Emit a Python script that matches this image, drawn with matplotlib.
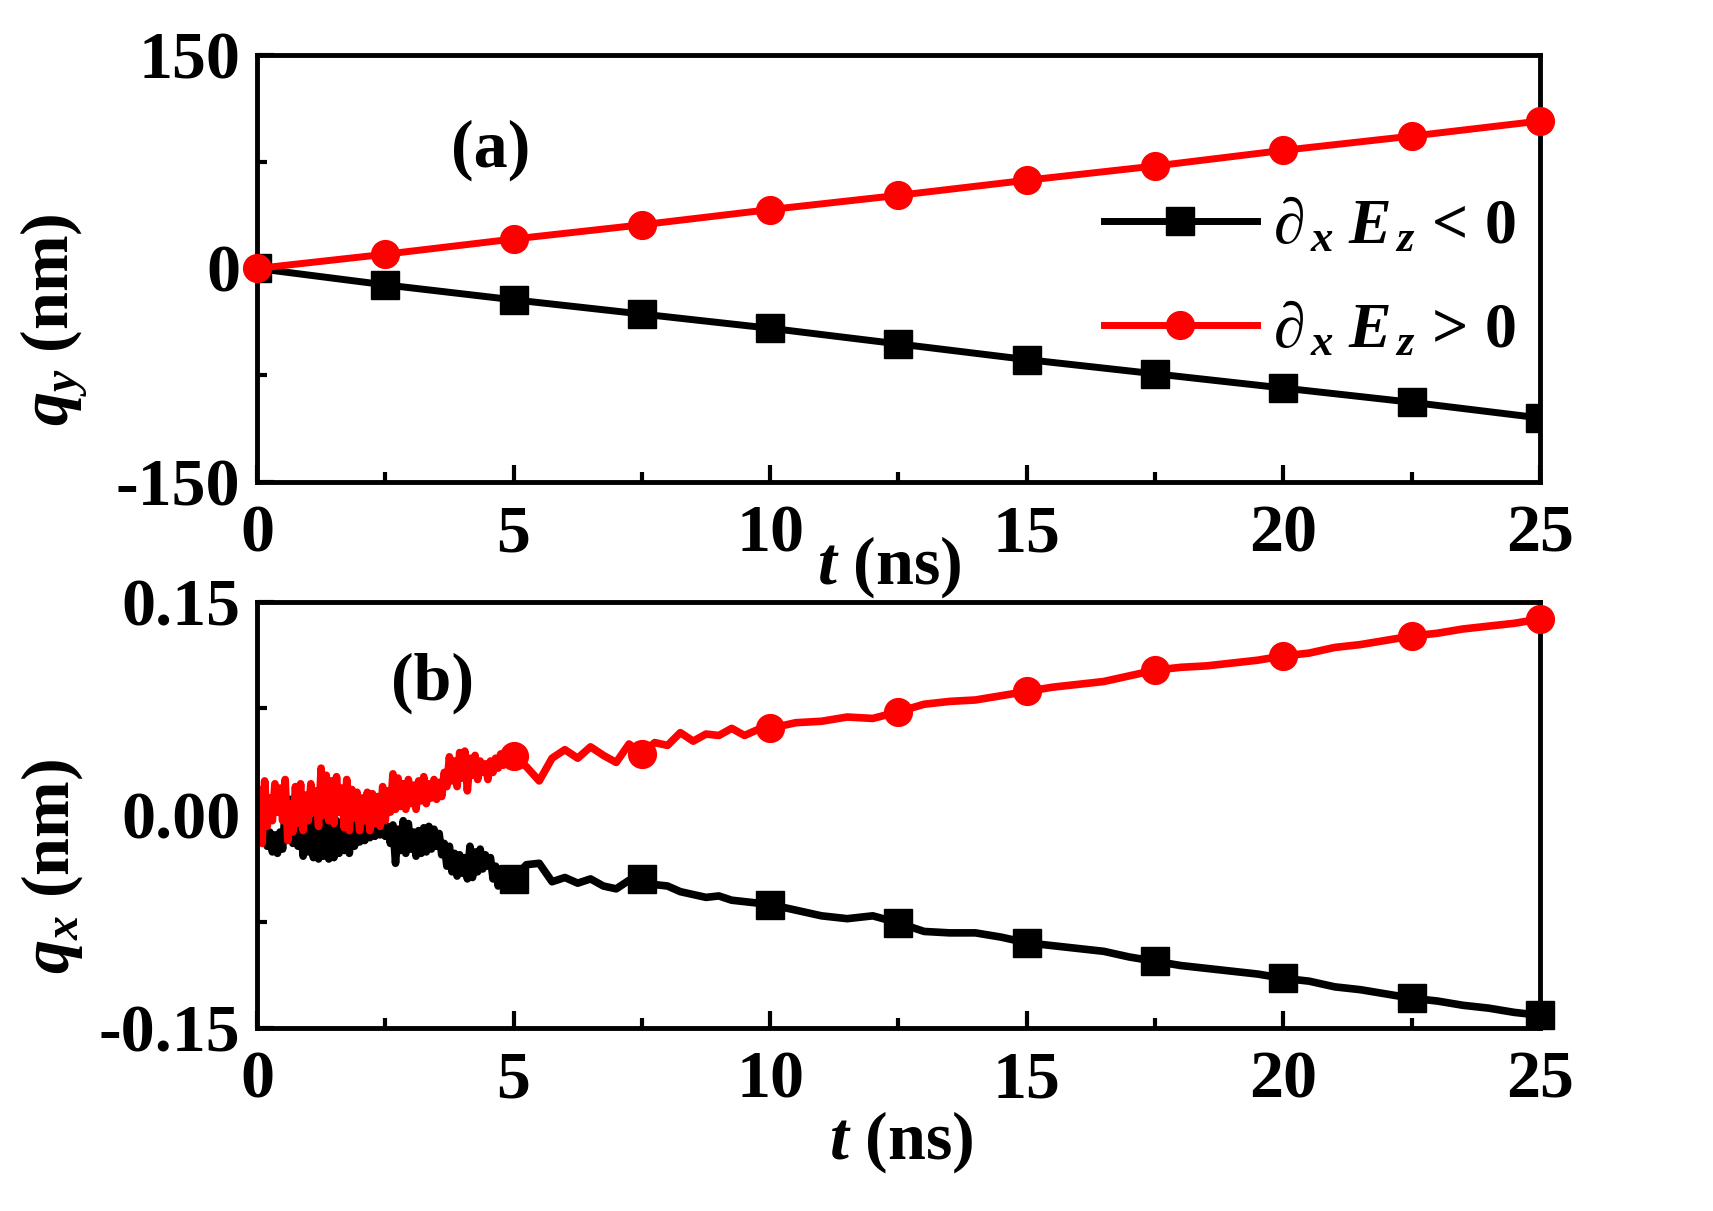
import numpy as np
import matplotlib
matplotlib.use("Agg")
import matplotlib.pyplot as plt
from matplotlib.lines import Line2D
from matplotlib.ticker import FixedLocator, MultipleLocator

# ---------------------------------------------------------------------------
# datos
# ---------------------------------------------------------------------------
t_marcas = [0, 2.5, 5, 7.5, 10, 12.5, 15, 17.5, 20, 22.5, 25]

# (a) q_y (nm)
qy_neg = [0, -11.5, -22, -32, -42, -53, -64, -74, -84, -94, -105]
qy_pos = [0, 10, 20.7, 30.7, 41.4, 51.4, 62, 72, 83, 93, 103.6]

# (b) q_x (nm), curvas con ruido
t_ruido = [0.00, 0.05, 0.10, 0.15, 0.20, 0.25, 0.30, 0.35, 0.40, 0.45,
           0.50, 0.55, 0.60, 0.65, 0.70, 0.75, 0.80, 0.85, 0.90, 0.95,
           1.00, 1.05, 1.10, 1.15, 1.20, 1.25, 1.30, 1.35, 1.40, 1.45,
           1.50, 1.55, 1.60, 1.65, 1.70, 1.75, 1.80, 1.85, 1.90, 1.95,
           2.00, 2.05, 2.10, 2.15, 2.20, 2.25, 2.30, 2.35, 2.40, 2.45,
           2.50, 2.55, 2.60, 2.65, 2.70, 2.75, 2.80, 2.85, 2.90, 2.95,
           3.00, 3.05, 3.10, 3.15, 3.20, 3.25, 3.30, 3.35, 3.40, 3.45,
           3.50, 3.55, 3.60, 3.65, 3.70, 3.75, 3.80, 3.85, 3.90, 3.95,
           4.00, 4.05, 4.10, 4.15, 4.20, 4.25, 4.30, 4.35, 4.40, 4.45,
           4.50, 4.55, 4.60, 4.65, 4.70, 4.75, 4.80, 4.85, 4.90, 4.95,
           5.0, 5.25, 5.5, 5.75, 6.0, 6.25, 6.5, 6.75, 7.0, 7.25,
           7.5, 7.75, 8.0, 8.25, 8.5, 8.75, 9.0, 9.25, 9.5, 9.75,
           10.0, 10.5, 11.0, 11.5, 12.0, 12.5, 13.0, 13.5, 14.0, 14.5,
           15.0, 15.5, 16.0, 16.5, 17.0, 17.5, 18.0, 18.5, 19.0, 19.5,
           20.0, 20.5, 21.0, 21.5, 22.0, 22.5, 23.0, 23.5, 24.0, 24.5,
           25.0]

qx_pos = [0.000, 0.018, -0.020, 0.024, -0.008, 0.012, -0.004, 0.022, 0.002, 0.019,
          -0.004, 0.025, -0.018, 0.008, -0.012, 0.020, -0.006, 0.022, -0.011, 0.014,
          -0.004, 0.022, 0.002, 0.017, -0.008, 0.033, 0.000, 0.028, -0.004, 0.024,
          -0.006, 0.027, 0.002, 0.019, -0.009, 0.025, -0.011, 0.018, -0.002, 0.016,
          -0.011, 0.012, -0.004, 0.016, -0.011, 0.015, -0.006, 0.013, -0.008, 0.020,
          -0.004, 0.017, 0.002, 0.029, 0.004, 0.026, 0.006, 0.022, 0.004, 0.025,
          0.008, 0.021, 0.004, 0.024, 0.010, 0.027, 0.008, 0.022, 0.012, 0.025,
          0.011, 0.023, 0.013, 0.030, 0.020, 0.041, 0.024, 0.038, 0.020, 0.044,
          0.026, 0.045, 0.017, 0.040, 0.028, 0.042, 0.025, 0.038, 0.030, 0.036,
          0.025, 0.038, 0.030, 0.040, 0.033, 0.043, 0.035, 0.044, 0.038, 0.042,
          0.041, 0.034, 0.024, 0.040, 0.046, 0.040, 0.048, 0.042, 0.037, 0.050,
          0.043, 0.051, 0.049, 0.058, 0.052, 0.057, 0.056, 0.061, 0.056, 0.060,
          0.061, 0.065, 0.066, 0.069, 0.068, 0.0727, 0.078, 0.080, 0.081, 0.084,
          0.087, 0.090, 0.092, 0.094, 0.098, 0.102, 0.104, 0.105, 0.107, 0.109,
          0.112, 0.114, 0.118, 0.120, 0.123, 0.126, 0.128, 0.131, 0.133, 0.135,
          0.138]

qx_neg = [0.000, 0.012, -0.018, 0.008, -0.022, -0.012, -0.026, -0.014, -0.027, -0.012,
          -0.024, 0.004, -0.015, 0.011, -0.020, -0.004, -0.022, -0.006, -0.029, -0.008,
          -0.026, -0.004, -0.030, -0.002, -0.031, -0.006, -0.029, -0.003, -0.031, -0.008,
          -0.030, -0.004, -0.027, -0.006, -0.025, -0.002, -0.027, -0.006, -0.022, -0.004,
          -0.019, -0.005, -0.018, -0.006, -0.016, -0.007, -0.015, -0.008, -0.014, -0.007,
          -0.015, -0.008, -0.020, -0.007, -0.034, -0.010, -0.025, -0.004, -0.027, -0.006,
          -0.024, -0.012, -0.029, -0.011, -0.027, -0.009, -0.026, -0.008, -0.024, -0.010,
          -0.022, -0.013, -0.028, -0.020, -0.036, -0.022, -0.040, -0.027, -0.043, -0.028,
          -0.041, -0.030, -0.045, -0.022, -0.044, -0.026, -0.040, -0.024, -0.038, -0.028,
          -0.036, -0.030, -0.045, -0.036, -0.050, -0.038, -0.048, -0.040, -0.047, -0.044,
          -0.045, -0.035, -0.034, -0.047, -0.044, -0.048, -0.045, -0.050, -0.052, -0.046,
          -0.045, -0.049, -0.050, -0.054, -0.056, -0.058, -0.057, -0.060, -0.061, -0.062,
          -0.063, -0.067, -0.071, -0.073, -0.071, -0.076, -0.082, -0.083, -0.083, -0.086,
          -0.090, -0.092, -0.094, -0.096, -0.100, -0.103, -0.106, -0.108, -0.110, -0.112,
          -0.115, -0.117, -0.121, -0.123, -0.126, -0.129, -0.131, -0.134, -0.136, -0.139,
          -0.141]

# marcadores visibles en (b): desde 5 ns
t_marcas_b = [5, 7.5, 10, 12.5, 15, 17.5, 20, 22.5, 25]
qx_pos_marcas = [0.0415, 0.043, 0.0615, 0.0727, 0.087, 0.102, 0.112, 0.126, 0.138]
qx_neg_marcas = [-0.045, -0.045, -0.0634, -0.0763, -0.0904, -0.103, -0.115, -0.129, -0.141]

etiq_neg = r"$\partial_{\,x}\;E_{\,z}$ < 0"
etiq_pos = r"$\partial_{\,x}\;E_{\,z}$ > 0"

# ---------------------------------------------------------------------------
# estilo
# ---------------------------------------------------------------------------
plt.rcParams["font.family"] = ["Liberation Serif", "DejaVu Serif"]
plt.rcParams["font.weight"] = "bold"
plt.rcParams["mathtext.fontset"] = "custom"
plt.rcParams["mathtext.rm"] = "Liberation Serif:bold"
plt.rcParams["mathtext.it"] = "Liberation Serif:italic:bold"
plt.rcParams["mathtext.bf"] = "Liberation Serif:bold"
plt.rcParams["axes.unicode_minus"] = False

FS = 49
LW = 5
MS = 20

fig = plt.figure(figsize=(17.13, 12.11), dpi=100)
ax_a = fig.add_axes([0.150, 0.602, 0.749, 0.3526])
ax_b = fig.add_axes([0.150, 0.1511, 0.749, 0.3518])


def estilo(ax):
    for s in ax.spines.values():
        s.set_linewidth(3.5)
    ax.set_xlim(0, 25)
    ax.xaxis.set_major_locator(MultipleLocator(5))
    ax.xaxis.set_minor_locator(MultipleLocator(2.5))
    ax.tick_params(which="both", direction="in", width=3, labelsize=FS)
    ax.tick_params(which="major", length=12)
    ax.tick_params(which="minor", length=7)
    ax.tick_params(axis="x", pad=16)
    ax.tick_params(axis="y", pad=12)
    for lab in ax.get_xticklabels() + ax.get_yticklabels():
        lab.set_fontweight("bold")


# (a)
ax_a.plot(t_marcas, qy_neg, color="black", lw=LW, marker="s", ms=MS, zorder=3)
ax_a.plot(t_marcas, qy_pos, color="red", lw=LW, marker="o", ms=MS, zorder=3,
          clip_on=False)
ax_a.set_ylim(-150, 150)
ax_a.yaxis.set_major_locator(FixedLocator([-150, 0, 150]))
ax_a.yaxis.set_minor_locator(FixedLocator([-75, 75]))
estilo(ax_a)
ax_a.text(0.182, 0.778, "(a)", transform=ax_a.transAxes, fontsize=FS,
          fontweight="bold", ha="center", va="center")
ax_a.text(0.493, -0.20, r"$t$ (ns)", transform=ax_a.transAxes, fontsize=FS,
          fontweight="bold", ha="center", va="center")
ax_a.text(-0.158, 0.379, r"$q_y$ (nm)", transform=ax_a.transAxes, fontsize=FS,
          fontweight="bold", ha="center", va="center", rotation=90)

manijas = [Line2D([], [], color="black", lw=LW, marker="s", ms=MS),
           Line2D([], [], color="red", lw=LW, marker="o", ms=MS)]
ax_a.legend(manijas, [etiq_neg, etiq_pos], loc="upper left",
            bbox_to_anchor=(0.66, 0.665), frameon=False, fontsize=46,
            handlelength=2.4, handletextpad=0.25, labelspacing=0.68,
            borderpad=0, borderaxespad=0)

# (b)
ax_b.plot(t_ruido, qx_neg, color="black", lw=5.5, solid_joinstyle="round", zorder=2)
ax_b.plot(t_ruido, qx_pos, color="red", lw=5.5, solid_joinstyle="round", zorder=2)
ax_b.plot(t_marcas_b, qx_neg_marcas, ls="none", color="black", marker="s", ms=MS,
          zorder=3, clip_on=False)
ax_b.plot(t_marcas_b, qx_pos_marcas, ls="none", color="red", marker="o", ms=MS,
          zorder=3, clip_on=False)
ax_b.set_ylim(-0.15, 0.15)
ax_b.yaxis.set_major_locator(FixedLocator([-0.15, 0.0, 0.15]))
ax_b.yaxis.set_minor_locator(FixedLocator([-0.075, 0.075]))
ax_b.set_yticklabels(["-0.15", "0.00", "0.15"])
estilo(ax_b)
ax_b.text(0.137, 0.81, "(b)", transform=ax_b.transAxes, fontsize=FS,
          fontweight="bold", ha="center", va="center")
ax_b.text(0.502, -0.268, r"$t$ (ns)", transform=ax_b.transAxes, fontsize=FS,
          fontweight="bold", ha="center", va="center")
ax_b.text(-0.16, 0.38, r"$q_x$ (nm)", transform=ax_b.transAxes, fontsize=FS,
          fontweight="bold", ha="center", va="center", rotation=90)

fig.savefig("out.png", dpi=100)
